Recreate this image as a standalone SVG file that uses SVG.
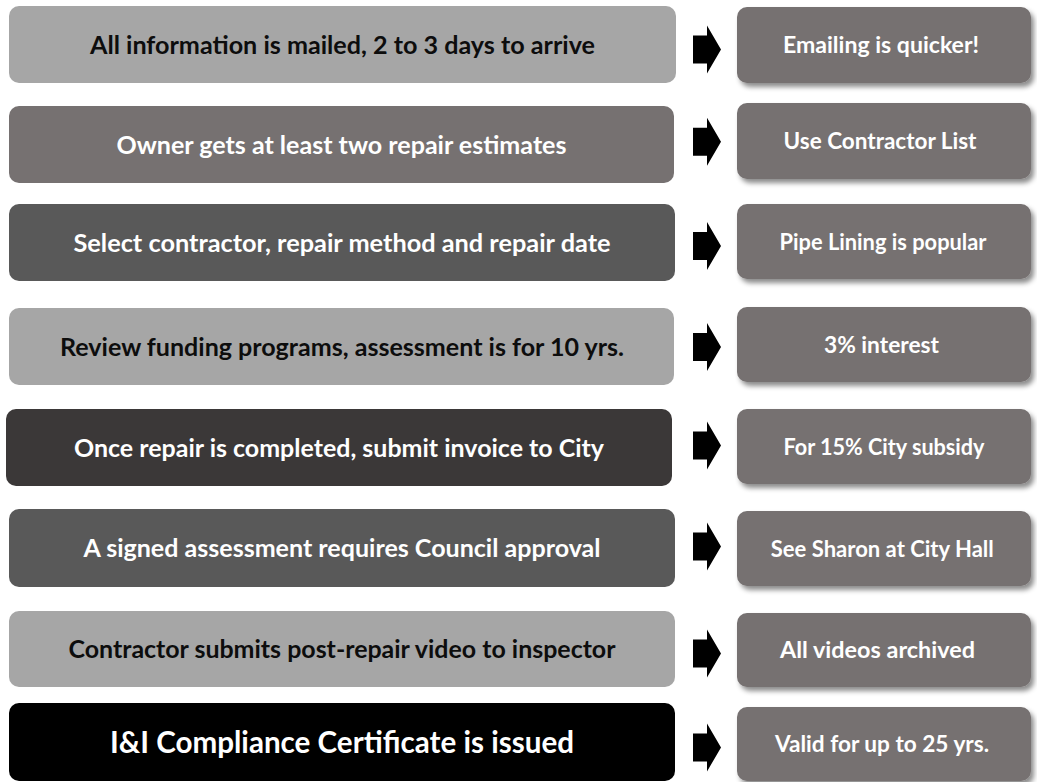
<svg xmlns="http://www.w3.org/2000/svg" xmlns:xlink="http://www.w3.org/1999/xlink" width="1037" height="782" viewBox="0 0 1037 782">
  <defs>
    <filter id="softShadow" x="-10%" y="-20%" width="125%" height="150%">
      <feDropShadow dx="3" dy="4" stdDeviation="2.5" flood-color="#000" flood-opacity="0.45"/>
    </filter>
    <!-- block arrow, origin at the left end of the shaft, vertically centred -->
    <polygon id="blockArrow" points="0,-14 14,-14 14,-24 28,0 14,24 14,14 0,14"/>
  </defs>
  <style>
    .step { rx: 10px; ry: 10px; }
    .light { fill: #a6a6a6; }
    .taupe { fill: #767171; }
    .mid { fill: #595959; }
    .dark { fill: #3b3838; }
    .black { fill: #000000; }
    .note { fill: #767171; filter: url(#softShadow); }
    text { font-family: Lato, "Open Sans", "Liberation Sans", sans-serif; font-weight: bold; text-anchor: middle; }
    .big { font-size: 25px; }
    .huge { font-size: 30px; }
    .small { font-size: 22.5px; fill: #ffffff; }
    .onLight { fill: #0d0d0d; }
    .onDark { fill: #ffffff; }
    .arrow { fill: #000000; }
  </style>

  <rect width="1037" height="782" fill="#ffffff"/>

  <!-- process steps -->
  <g id="step1">
    <rect class="step light" x="9" y="6" width="667" height="77"/>
    <text class="big onLight" x="342.5" y="53.5" textLength="505" lengthAdjust="spacingAndGlyphs">All information is mailed, 2 to 3 days to arrive</text>
  </g>
  <g id="step2">
    <rect class="step taupe" x="9" y="106" width="665" height="77"/>
    <text class="big onDark" x="341.5" y="153.5" textLength="450" lengthAdjust="spacingAndGlyphs">Owner gets at least two repair estimates</text>
  </g>
  <g id="step3">
    <rect class="step mid" x="9" y="204" width="666" height="77"/>
    <text class="big onDark" x="342" y="251.5" textLength="537" lengthAdjust="spacingAndGlyphs">Select contractor, repair method and repair date</text>
  </g>
  <g id="step4">
    <rect class="step light" x="9" y="308" width="665" height="77"/>
    <text class="big onLight" x="342" y="355.5" textLength="564" lengthAdjust="spacingAndGlyphs">Review funding programs, assessment is for 10 yrs.</text>
  </g>
  <g id="step5">
    <rect class="step dark" x="6" y="409" width="666" height="77"/>
    <text class="big onDark" x="339" y="456.5" textLength="530" lengthAdjust="spacingAndGlyphs">Once repair is completed, submit invoice to City</text>
  </g>
  <g id="step6">
    <rect class="step mid" x="9" y="509" width="666" height="78"/>
    <text class="big onDark" x="342" y="557" textLength="517" lengthAdjust="spacingAndGlyphs">A signed assessment requires Council approval</text>
  </g>
  <g id="step7">
    <rect class="step light" x="9" y="611" width="666" height="76"/>
    <text class="big onLight" x="342" y="658" textLength="547" lengthAdjust="spacingAndGlyphs">Contractor submits post-repair video to inspector</text>
  </g>
  <g id="step8">
    <rect class="step black" x="9" y="703" width="666" height="78"/>
    <text class="huge onDark" x="342" y="752.5" textLength="464" lengthAdjust="spacingAndGlyphs">I&amp;I Compliance Certificate is issued</text>
  </g>

  <!-- side notes -->
  <g id="note1">
    <rect class="step note" x="737" y="7" width="294" height="76"/>
    <text class="small" x="881" y="53" textLength="196" lengthAdjust="spacingAndGlyphs">Emailing is quicker!</text>
  </g>
  <g id="note2">
    <rect class="step note" x="737" y="103" width="294" height="76"/>
    <text class="small" x="880" y="149" textLength="193" lengthAdjust="spacingAndGlyphs">Use Contractor List</text>
  </g>
  <g id="note3">
    <rect class="step note" x="737" y="204" width="294" height="75"/>
    <text class="small" x="883" y="249.5" textLength="207" lengthAdjust="spacingAndGlyphs">Pipe Lining is popular</text>
  </g>
  <g id="note4">
    <rect class="step note" x="737" y="307" width="294" height="75"/>
    <text class="small" x="881.5" y="352.5" textLength="115" lengthAdjust="spacingAndGlyphs">3% interest</text>
  </g>
  <g id="note5">
    <rect class="step note" x="737" y="409" width="294" height="75"/>
    <text class="small" x="884" y="454.5" textLength="201" lengthAdjust="spacingAndGlyphs">For 15% City subsidy</text>
  </g>
  <g id="note6">
    <rect class="step note" x="737" y="511" width="294" height="75"/>
    <text class="small" x="882.3" y="556.5" textLength="223" lengthAdjust="spacingAndGlyphs">See Sharon at City Hall</text>
  </g>
  <g id="note7">
    <rect class="step note" x="737" y="613" width="294" height="74"/>
    <text class="small" x="877.5" y="658" textLength="195" lengthAdjust="spacingAndGlyphs">All videos archived</text>
  </g>
  <g id="note8">
    <rect class="step note" x="737" y="707" width="294" height="74"/>
    <text class="small" x="882" y="752" textLength="214" lengthAdjust="spacingAndGlyphs">Valid for up to 25 yrs.</text>
  </g>

  <!-- connectors: block arrows from each step to its note -->
  <g id="connectors" class="arrow">
    <use xlink:href="#blockArrow" href="#blockArrow" x="693" y="49.5"/>
    <use xlink:href="#blockArrow" href="#blockArrow" x="693" y="141.7"/>
    <use xlink:href="#blockArrow" href="#blockArrow" x="693" y="246"/>
    <use xlink:href="#blockArrow" href="#blockArrow" x="693" y="347"/>
    <use xlink:href="#blockArrow" href="#blockArrow" x="693" y="445.5"/>
    <use xlink:href="#blockArrow" href="#blockArrow" x="693" y="546.5"/>
    <use xlink:href="#blockArrow" href="#blockArrow" x="693" y="653.5"/>
    <use xlink:href="#blockArrow" href="#blockArrow" x="693" y="747.5"/>
  </g>
</svg>
